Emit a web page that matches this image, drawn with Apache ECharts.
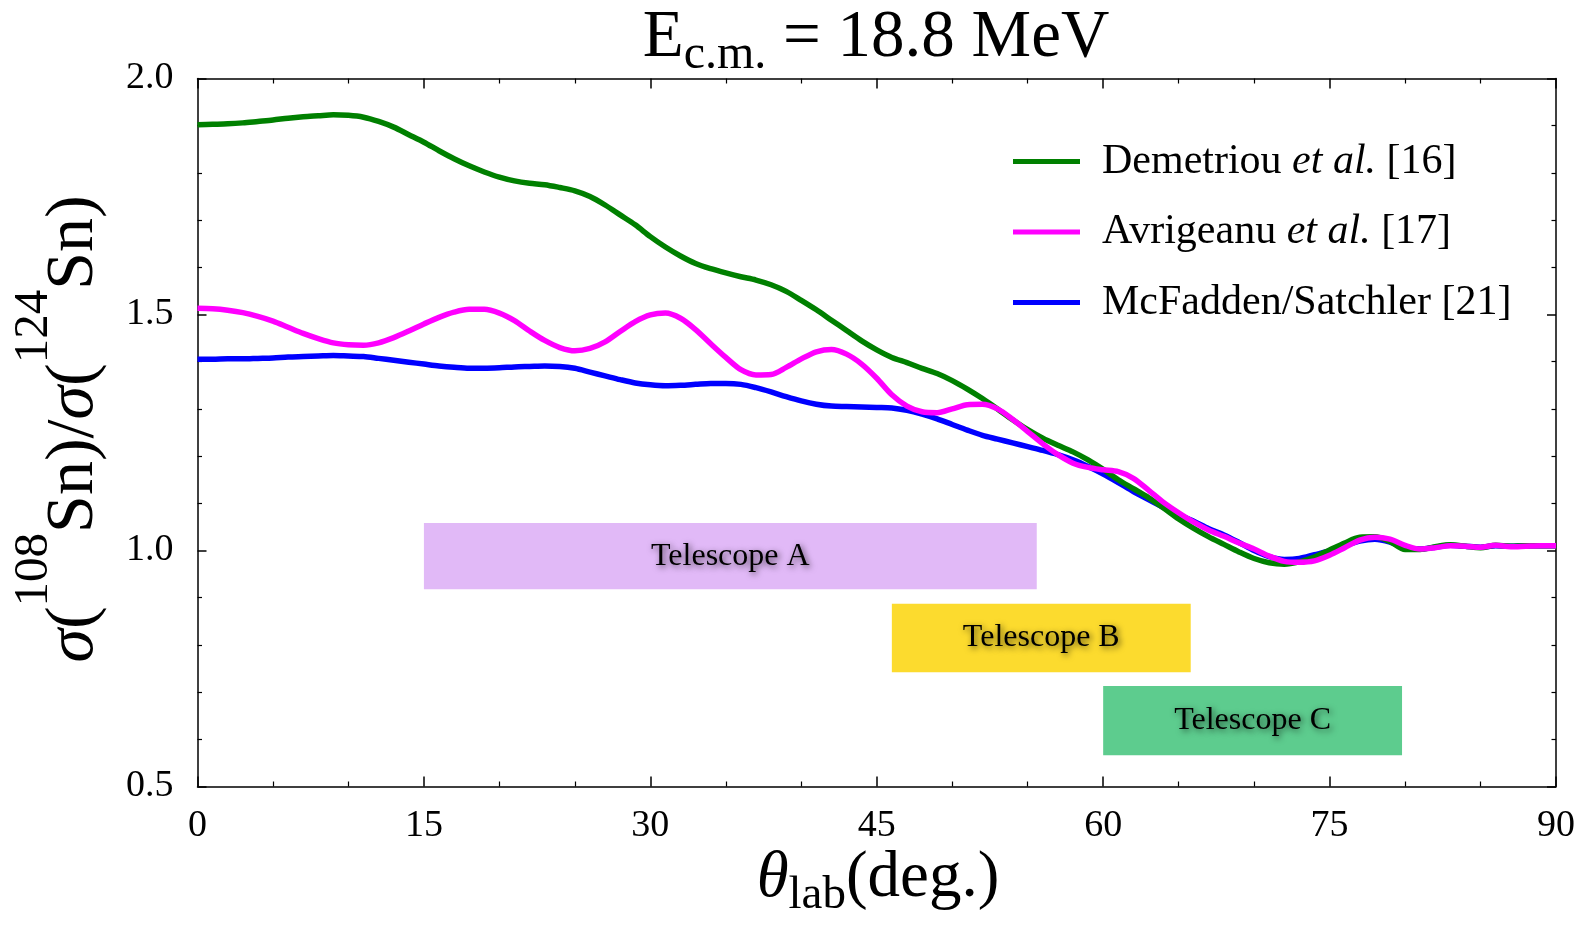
<!DOCTYPE html>
<html>
<head>
<meta charset="utf-8">
<script src="https://cdn.jsdelivr.net/npm/echarts@6/dist/echarts.min.js"></script>
<style>
  html, body { margin: 0; padding: 0; background: #fff; }
  #chart { width: 1583px; height: 925px; }
</style>
</head>
<body>
<div id="chart"></div>
<script>
// Scattering angle in the lab frame (deg.)
const theta = [
  0, 1, 2, 3, 4, 5, 6, 7, 8, 9, 10, 11, 12, 13, 14, 15, 16, 17, 18, 19,
  20, 21, 22, 23, 24, 25, 26, 27, 28, 29, 30, 31, 32, 33, 34, 35, 36, 37, 38, 39,
  40, 41, 42, 43, 44, 45, 46, 47, 48, 49, 50, 51, 52, 53, 54, 55, 56, 57, 58, 59,
  60, 61, 62, 63, 64, 65, 66, 67, 68, 69, 70, 71, 72, 73, 74, 75, 76, 77, 78, 79,
  80, 81, 82, 83, 84, 85, 86, 87, 88, 89, 90
];

// Cross-section ratio sigma(108Sn)/sigma(124Sn) for each potential
const demetriou = [
  1.902, 1.903, 1.904, 1.906, 1.909, 1.912, 1.916, 1.919, 1.921, 1.923,
  1.922, 1.918, 1.909, 1.897, 1.881, 1.865, 1.847, 1.830, 1.815, 1.802,
  1.791, 1.783, 1.778, 1.775, 1.769, 1.762, 1.750, 1.732, 1.711, 1.690,
  1.665, 1.643, 1.624, 1.608, 1.597, 1.588, 1.580, 1.573, 1.563, 1.549,
  1.530, 1.510, 1.488, 1.466, 1.444, 1.425, 1.409, 1.398, 1.386, 1.375,
  1.360, 1.342, 1.322, 1.300, 1.277, 1.256, 1.238, 1.223, 1.209, 1.192,
  1.172, 1.150, 1.131, 1.112, 1.090, 1.067, 1.047, 1.029, 1.013, 0.997,
  0.983, 0.974, 0.971, 0.976, 0.986, 1.001, 1.016, 1.028, 1.029, 1.019,
  1.002, 1.002, 1.008, 1.012, 1.009, 1.006, 1.011, 1.009, 1.010, 1.010, 1.010
];
const avrigeanu = [
  1.513, 1.512, 1.509, 1.504, 1.496, 1.486, 1.473, 1.460, 1.449, 1.440,
  1.436, 1.435, 1.440, 1.451, 1.465, 1.480, 1.494, 1.505, 1.511, 1.511,
  1.503, 1.487, 1.465, 1.445, 1.430, 1.423, 1.428, 1.442, 1.464, 1.485,
  1.499, 1.503, 1.492, 1.468, 1.438, 1.409, 1.383, 1.372, 1.373, 1.388,
  1.406, 1.421, 1.426, 1.416, 1.395, 1.365, 1.330, 1.306, 1.294, 1.292,
  1.300, 1.309, 1.310, 1.300, 1.278, 1.252, 1.226, 1.203, 1.185, 1.176,
  1.171, 1.167, 1.153, 1.128, 1.102, 1.080, 1.060, 1.043, 1.030, 1.016,
  1.003, 0.988, 0.977, 0.975, 0.978, 0.990, 1.006, 1.022, 1.028, 1.024,
  1.011, 1.003, 1.006, 1.010, 1.009, 1.007, 1.011, 1.008, 1.009, 1.010, 1.010
];
const mcfadden = [
  1.405, 1.405, 1.406, 1.406, 1.407, 1.408, 1.410, 1.411, 1.412, 1.413,
  1.412, 1.411, 1.407, 1.403, 1.399, 1.395, 1.391, 1.388, 1.386, 1.386,
  1.387, 1.389, 1.390, 1.391, 1.390, 1.386, 1.378, 1.370, 1.362, 1.355,
  1.351, 1.349, 1.350, 1.352, 1.354, 1.354, 1.352, 1.345, 1.336, 1.326,
  1.317, 1.310, 1.306, 1.305, 1.304, 1.303, 1.302, 1.297, 1.289, 1.279,
  1.267, 1.255, 1.244, 1.236, 1.228, 1.220, 1.212, 1.203, 1.192, 1.178,
  1.162, 1.144, 1.125, 1.108, 1.091, 1.076, 1.062, 1.046, 1.033, 1.017,
  1.000, 0.987, 0.981, 0.983, 0.991, 0.999, 1.010, 1.020, 1.024, 1.018,
  1.006, 1.003, 1.007, 1.011, 1.009, 1.007, 1.010, 1.009, 1.010, 1.010, 1.010
];

// Angular coverage of each telescope: [from, to] in deg. and ratio band [low, high]
const telescopeNames = ['Telescope A', 'Telescope B', 'Telescope C'];
const telescopeAngles = [[15, 55.6], [46, 65.8], [60, 79.8]];
const telescopeBands = [[0.918, 1.058], [0.742, 0.887], [0.566, 0.713]];
const telescopeColors = ['#e1b9f7', '#fcdb2e', '#5dcc8e'];

// Axis tick values
const xTicks = [0, 15, 30, 45, 60, 75, 90];
const yTicks = [0.5, 1.0, 1.5, 2.0];

const SERIF = '"Liberation Serif", "Times New Roman", serif';

function pairs(xs, ys) { return xs.map((x, i) => [x, ys[i]]); }

// Text helpers: runs of text pieces with sub/superscripts
const mctx = document.createElement('canvas').getContext('2d');
function fontOf(fs, italic) { return (italic ? 'italic ' : '') + fs + 'px ' + SERIF; }
function widthOf(t, fs, italic) { mctx.font = fontOf(fs, italic); return mctx.measureText(t).width; }
function midToBase(fs) {
  mctx.font = fontOf(fs, false);
  mctx.textBaseline = 'alphabetic';
  const a = mctx.measureText('H').actualBoundingBoxAscent;
  mctx.textBaseline = 'middle';
  const b = mctx.measureText('H').actualBoundingBoxAscent;
  mctx.textBaseline = 'alphabetic';
  return a - b;
}
// pieces: [text, fontSize, italic, baselineShift]
function textRun(pieces, x0, y0, vertical, anchor) {
  const total = pieces.reduce((s, p) => s + widthOf(p[0], p[1], p[2]), 0);
  let a = anchor === 'center' ? -total / 2 : 0;
  const out = [];
  for (const [t, fs, it, dy] of pieces) {
    const v = dy - midToBase(fs);
    out.push({
      type: 'text',
      x: vertical ? x0 + v : x0 + a,
      y: vertical ? y0 - a : y0 + v,
      rotation: vertical ? Math.PI / 2 : 0,
      silent: true,
      style: {
        text: t, fontSize: fs, fontFamily: SERIF,
        fontStyle: it ? 'italic' : 'normal',
        fill: '#000', align: 'left', verticalAlign: 'middle'
      }
    });
    a += widthOf(t, fs, it);
  }
  return out;
}

const titleRun = textRun([
  ['E', 67, false, 0], ['c.m.', 48, false, 12], [' = 18.8 MeV', 67, false, 0]
], 876, 56, false, 'center');
const xNameRun = textRun([
  ['\u03b8', 65, true, 0], ['lab', 47, false, 12], ['(deg.)', 65, false, 0]
], 878, 896, false, 'center');
const yNameRun = textRun([
  ['\u03c3', 68, true, 0], ['(', 68, false, 0], ['108', 49, false, -45],
  ['Sn)/', 68, false, 0], ['\u03c3', 68, true, 0], ['(', 68, false, 0],
  ['124', 49, false, -45], ['Sn)', 68, false, 0]
], 92, 429, true, 'center');

const chart = echarts.init(document.getElementById('chart'), null, { renderer: 'canvas' });

const tickStyle = { color: '#000', width: 1.5 };
function xAxisCfg(pos, labels) {
  return {
    type: 'value', position: pos, min: 0, max: 90, interval: 15,
    axisLine: { show: true, onZero: false, lineStyle: { color: '#000', width: 1.5 } },
    axisTick: { show: true, inside: true, length: 10, lineStyle: tickStyle },
    minorTick: { show: true, splitNumber: 3, length: 5, lineStyle: { color: '#000', width: 1.2 } },
    axisLabel: {
      show: labels, margin: 21, fontSize: 38, fontFamily: SERIF, color: '#000',
      customValues: xTicks
    },
    splitLine: { show: false }, minorSplitLine: { show: false }
  };
}
function yAxisCfg(pos, labels) {
  return {
    type: 'value', position: pos, min: 0.5, max: 2.0, interval: 0.5,
    axisLine: { show: true, onZero: false, lineStyle: { color: '#000', width: 1.5 } },
    axisTick: { show: true, inside: true, length: 9, lineStyle: tickStyle },
    minorTick: { show: true, splitNumber: 5, length: 4.5, lineStyle: { color: '#000', width: 1.2 } },
    axisLabel: {
      show: labels, margin: 24, fontSize: 38, fontFamily: SERIF, color: '#000',
      formatter: v => v.toFixed(1), customValues: yTicks
    },
    splitLine: { show: false }, minorSplitLine: { show: false }
  };
}

const legendText = {
  'Demetriou': '{n|Demetriou }{i|et al.}{n| [16]}',
  'Avrigeanu': '{n|Avrigeanu }{i|et al.}{n| [17]}',
  'McFadden/Satchler': '{n|McFadden/Satchler [21]}'
};

function curve(name, data, color) {
  return {
    name, type: 'line', data, smooth: 0.3, symbol: 'none', showSymbol: false,
    color, lineStyle: { color, width: 5.5 }, animation: false, silent: true,
    emphasis: { disabled: true }
  };
}

chart.setOption({
  animation: false,
  backgroundColor: '#fff',
  grid: { left: 197.5, top: 78.5, width: 1358.5, height: 708, containLabel: false, outerBoundsMode: 'none' },
  xAxis: [xAxisCfg('bottom', true), xAxisCfg('top', false)],
  yAxis: [yAxisCfg('left', true), yAxisCfg('right', false)],
  legend: {
    data: ['Demetriou', 'Avrigeanu', 'McFadden/Satchler'],
    orient: 'vertical', left: 1013, top: 140.5, padding: 0, itemGap: 28.5,
    itemWidth: 67, itemHeight: 5, icon: 'rect', selectedMode: false,
    formatter: n => legendText[n],
    textStyle: {
      fontFamily: SERIF, fontSize: 42, color: '#000', padding: [0, 0, 0, 17],
      rich: {
        n: { fontFamily: SERIF, fontSize: 42, color: '#000' },
        i: { fontFamily: SERIF, fontSize: 42, color: '#000', fontStyle: 'italic' }
      }
    }
  },
  graphic: { elements: [...titleRun, ...xNameRun, ...yNameRun] },
  series: [
    {
      name: 'Telescopes', type: 'line', data: [], symbol: 'none', silent: true,
      markArea: {
        silent: true,
        data: telescopeNames.map((nm, i) => [
          {
            name: nm,
            xAxis: telescopeAngles[i][0], yAxis: telescopeBands[i][0],
            itemStyle: { color: telescopeColors[i], opacity: 1 },
            label: {
              show: true, position: 'inside', color: '#000',
              fontFamily: SERIF, fontSize: 32,
              textShadowColor: 'rgba(0,0,0,0.65)', textShadowBlur: 6,
              textShadowOffsetX: 2, textShadowOffsetY: 2
            }
          },
          { xAxis: telescopeAngles[i][1], yAxis: telescopeBands[i][1] }
        ])
      }
    },
    curve('McFadden/Satchler', pairs(theta, mcfadden), '#0000ff'),
    curve('Demetriou', pairs(theta, demetriou), '#008000'),
    curve('Avrigeanu', pairs(theta, avrigeanu), '#ff00ff')
  ]
});
</script>
</body>
</html>
